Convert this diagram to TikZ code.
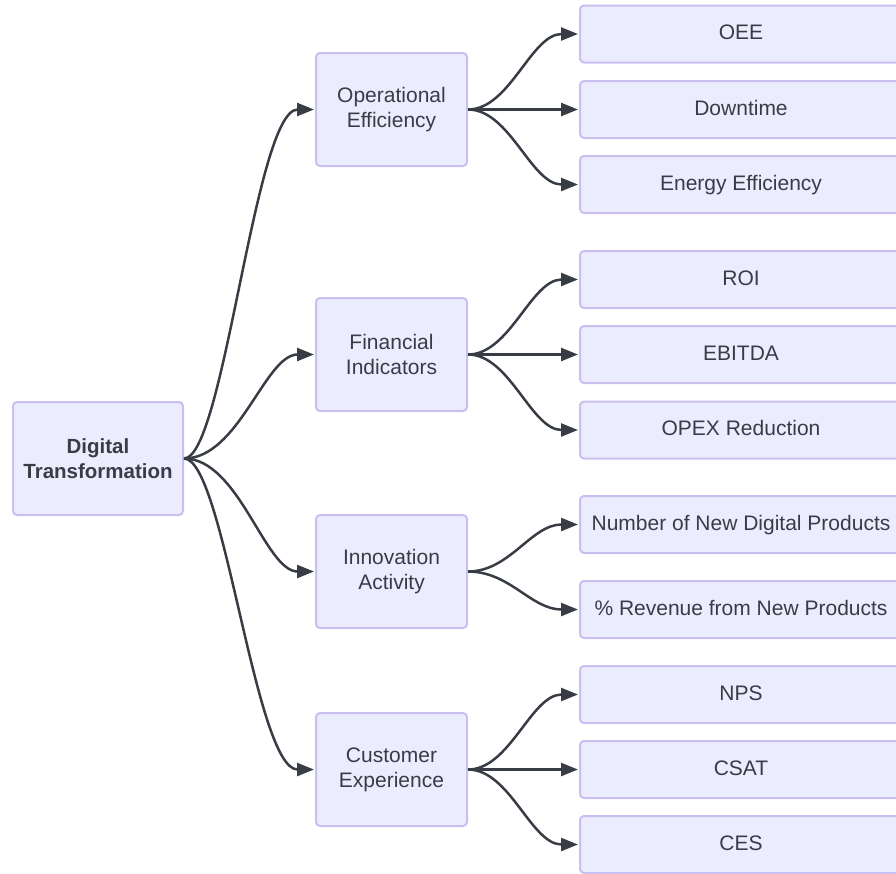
\documentclass[tikz,border=0pt]{standalone}
\usepackage{fontspec}
\setmainfont{Liberation Sans}
\usetikzlibrary{arrows.meta}
\definecolor{boxfill}{HTML}{ECECFF}
\definecolor{boxline}{HTML}{C9BFF1}
\definecolor{ink}{HTML}{383D45}
\begin{document}
\begin{tikzpicture}[x=1pt,y=-1pt,
  box/.style={draw=boxline, fill=boxfill, line width=2pt, rounded corners=4pt,
    align=center, text=ink, inner sep=0pt, font=\fontsize{21}{25}\selectfont},
  rootbox/.style={box, minimum width=170pt, minimum height=113pt,
    font=\fontsize{20.5}{25}\selectfont\bfseries},
  midbox/.style={box, minimum width=151pt, minimum height=113pt},
  leafbox/.style={box, minimum width=322pt, minimum height=57pt,
    text height=15.5pt, text depth=4.5pt},
  link/.style={draw=ink, line width=2.5pt, -{Triangle[length=17pt,width=13pt]}, shorten >=1pt}
]
\useasboundingbox (0,0) rectangle (896,873);
\clip (0,0) rectangle (896,873);

% root
\node[rootbox] (dt) at (98,458.5) {Digital\\Transformation};

% second level
\node[midbox] (ops) at (391.5,109.5) {Operational\\Efficiency};
\node[midbox] (fin) at (391.5,354.5) {Financial\\Indicators};
\node[midbox] (inn) at (391.5,571.5) {Innovation\\Activity};
\node[midbox] (cx)  at (391.5,769.5) {Customer\\Experience};

% metrics
\node[leafbox] (oee)  at (741,34)  {OEE};
\node[leafbox] (down) at (741,109.5) {Downtime};
\node[leafbox] (ener) at (741,184.5) {Energy Efficiency};
\node[leafbox] (roi)  at (741,279.5) {ROI};
\node[leafbox] (ebit) at (741,354.5) {EBITDA};
\node[leafbox] (opex) at (741,430) {OPEX Reduction};
\node[leafbox] (ndp)  at (741,524.5) {Number of New Digital Products};
\node[leafbox] (rev)  at (741,609.5) {\% Revenue from New Products};
\node[leafbox] (nps)  at (741,694.5) {NPS};
\node[leafbox] (csat) at (741,769.5) {CSAT};
\node[leafbox] (ces)  at (741,844.5) {CES};

% root to categories
\draw[link] (dt.east) .. controls +(40,0) and +(-60,0) .. (ops.west);
\draw[link] (dt.east) .. controls +(55,0) and +(-50,0) .. (fin.west);
\draw[link] (dt.east) .. controls +(55,0) and +(-50,0) .. (inn.west);
\draw[link] (dt.east) .. controls +(40,0) and +(-60,0) .. (cx.west);

% categories to metrics
\foreach \src/\dst in {ops/oee, ops/ener, fin/roi, fin/opex, inn/ndp, inn/rev, cx/nps, cx/ces}
  \draw[link] (\src.east) .. controls +(42,0) and +(-48,0) .. (\dst.west);
\foreach \src/\dst in {ops/down, fin/ebit, cx/csat}
  \draw[link] (\src.east) -- (\dst.west);
\end{tikzpicture}
\end{document}
